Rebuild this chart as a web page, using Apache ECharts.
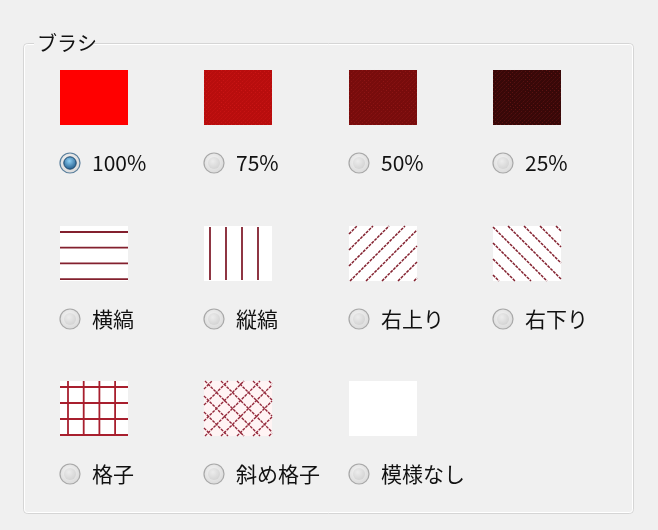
<!DOCTYPE html>
<html>
<head>
<meta charset="utf-8">
<script src="https://cdn.jsdelivr.net/npm/echarts@6/dist/echarts.min.js"></script>
<style>
html,body{margin:0;padding:0;background:#f0f0f0;}
#main{width:658px;height:530px;}
</style>
</head>
<body>
<div id="main"></div>
<script>
// ---- data ----
const groupTitle = 'ブラシ';
const labels = ['100%', '75%', '50%', '25%', '横縞', '縦縞', '右上り', '右下り', '格子', '斜め格子', '模様なし'];
const columns = [0, 1, 2, 3, 0, 1, 2, 3, 0, 1, 2];
const rowsIdx = [0, 0, 0, 0, 1, 1, 1, 1, 2, 2, 2];
const patterns = ['solid', 'p75', 'p50', 'p25', 'horizontal', 'vertical', 'forwardDiagonal', 'backwardDiagonal', 'cross', 'diagonalCross', 'none'];
const selectedIndex = 0;

const SW = 68, SH = 55, STEP = 16;
const lineColor = '#83202e';
const ditherColors = { p75: '#b80d0d', p50: '#780c0c', p25: '#380808' };
const ditherDots = { p75: '#d01818', p50: '#951818', p25: '#6a1515' };

function seg(x1, y1, x2, y2, color, width, dash) {
  const st = { stroke: color, lineWidth: width };
  if (dash) st.lineDash = dash;
  return { type: 'line', shape: { x1, y1, x2, y2 }, style: st };
}
function diagLines(x0, y0, w, h, step, dir, off, color, width, dash) {
  const out = [];
  if (dir > 0) { // "/" : x + y = c
    for (let c = x0 + y0 + off; c <= x0 + w + y0 + h; c += step) {
      const xa = Math.max(x0, c - (y0 + h)), xb = Math.min(x0 + w, c - y0);
      if (xb > xa) out.push(seg(xa, c - xa, xb, c - xb, color, width, dash));
    }
  } else { // "\" : x - y = c
    for (let c = x0 - (y0 + h) + off; c <= x0 + w - y0; c += step) {
      const xa = Math.max(x0, c + y0), xb = Math.min(x0 + w, c + y0 + h);
      if (xb > xa) out.push(seg(xa, xa - c, xb, xb - c, color, width, dash));
    }
  }
  return out;
}

function swatch(kind, x, y) {
  const ch = [];
  const rect = (fill) => ({ type: 'rect', shape: { x, y, width: SW, height: SH }, style: { fill } });
  switch (kind) {
    case 'solid': ch.push(rect('#ff0000')); break;
    case 'p75': case 'p50': case 'p25':
      ch.push(rect(ditherColors[kind]));
      ch.push(...diagLines(x, y, SW, SH, 4, 1, 2, ditherDots[kind], 0.8, [1.5, 1.5]));
      break;
    case 'horizontal':
      ch.push(rect('#ffffff'));
      for (let i = 0; i < 4; i++) ch.push(seg(x, y + 6 + i * 15.7, x + SW, y + 6 + i * 15.7, lineColor, 1.8));
      break;
    case 'vertical':
      ch.push(rect('#ffffff'));
      for (let i = 0; i < 4; i++) ch.push(seg(x + 6 + i * 16, y + 1, x + 6 + i * 16, y + SH - 1, lineColor, 1.8));
      break;
    case 'forwardDiagonal':
      ch.push(rect('#ffffff'));
      ch.push(...diagLines(x, y, SW, SH, STEP, 1, 8, lineColor, 1.5, [3, 1]));
      break;
    case 'backwardDiagonal':
      ch.push(rect('#ffffff'));
      ch.push(...diagLines(x, y, SW, SH, STEP, -1, 6, lineColor, 1.5, [3, 1]));
      break;
    case 'cross':
      ch.push(rect('#ffffff'));
      for (let i = 0; i < 4; i++) ch.push(seg(x, y + 6 + i * 16, x + SW, y + 6 + i * 16, '#a81f2e', 1.8));
      for (let i = 0; i < 4; i++) ch.push(seg(x + 8 + i * 15.7, y, x + 8 + i * 15.7, y + SH, '#a81f2e', 1.8));
      break;
    case 'diagonalCross':
      ch.push(rect('#fff4f4'));
      ch.push(...diagLines(x, y, SW, SH, STEP, 1, 8, '#93283a', 1.4, [3, 1]));
      ch.push(...diagLines(x, y, SW, SH, STEP, -1, 8, '#93283a', 1.4, [3, 1]));
      break;
    default:
      ch.push(rect('#ffffff'));
  }
  return ch;
}

function radio(cx, cy, sel) {
  const ch = [];
  ch.push({
    type: 'circle', shape: { cx, cy, r: 10 },
    style: {
      fill: { type: 'radial', x: 0.45, y: 0.4, r: 0.7, colorStops: [{ offset: 0, color: '#f6f6f6' }, { offset: 1, color: '#d4d4d4' }] },
      stroke: sel ? '#5a7f9c' : '#a8a8a8', lineWidth: 1.2
    }
  });
  if (sel) {
    ch.push({
      type: 'circle', shape: { cx, cy, r: 6.2 },
      style: { fill: { type: 'radial', x: 0.45, y: 0.35, r: 0.7, colorStops: [{ offset: 0, color: '#8fd0f5' }, { offset: 1, color: '#154f80' }] }, stroke: '#1e4a70', lineWidth: 1 }
    });
  } else {
    ch.push({
      type: 'circle', shape: { cx, cy, r: 6 },
      style: { fill: { type: 'radial', x: 0.4, y: 0.35, r: 0.8, colorStops: [{ offset: 0, color: '#ececec' }, { offset: 1, color: '#cfcfcf' }] } }
    });
  }
  return ch;
}

const seriesData = labels.map((l, i) => [columns[i], rowsIdx[i], i]);

const chart = echarts.init(document.getElementById('main'), null, { renderer: 'canvas' });
chart.setOption({
  backgroundColor: '#f0f0f0',
  animation: false,
  grid: { left: 60, right: 658 - 493, top: 70, bottom: 530 - 381 },
  xAxis: { type: 'value', min: 0, max: 3, show: false },
  yAxis: { type: 'value', min: 0, max: 2, inverse: true, show: false },
  graphic: [
    { type: 'rect', shape: { x: 23.5, y: 43.5, width: 610, height: 470, r: 4 }, style: { fill: 'none', stroke: '#d5d5d5', lineWidth: 1 }, z: 0 },
    { type: 'rect', shape: { x: 24.5, y: 44.5, width: 608, height: 468, r: 3 }, style: { fill: 'none', stroke: '#ffffff', lineWidth: 1 }, z: 0 },
    { type: 'rect', shape: { x: 34, y: 32, width: 60, height: 22 }, style: { fill: '#f0f0f0' }, z: 1 },
    { type: 'text', x: 37, y: 43, style: { text: groupTitle, font: '20px "Noto Sans CJK JP"', fill: '#111', verticalAlign: 'middle', align: 'left' }, z: 2 }
  ],
  series: [{
    type: 'custom',
    coordinateSystem: 'cartesian2d',
    data: seriesData,
    renderItem: function (params, api) {
      const i = api.value(2);
      const p = api.coord([api.value(0), api.value(1)]);
      const x = Math.round(p[0]), y = Math.round(p[1]);
      const children = swatch(patterns[i], x, y);
      const cy = y + 93;
      children.push(...radio(x + 10, cy, i === selectedIndex));
      children.push({
        type: 'text', x: x + 32, y: cy,
        style: { text: labels[i], font: '21px "Noto Sans CJK JP"', fill: '#111', verticalAlign: 'middle', align: 'left' }
      });
      return { type: 'group', children };
    }
  }]
});
</script>
</body>
</html>
